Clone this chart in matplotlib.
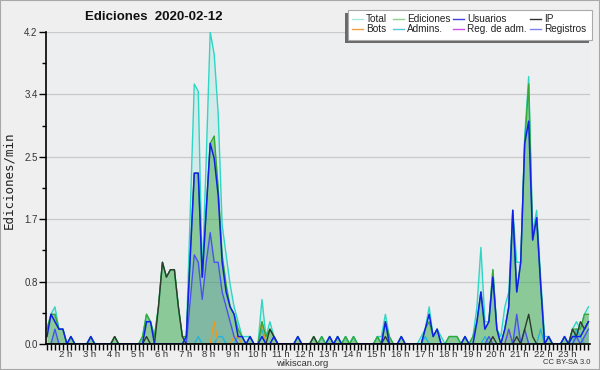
import numpy as np
import matplotlib
matplotlib.use("Agg")
import matplotlib.pyplot as plt
from matplotlib.lines import Line2D
from matplotlib.patches import Rectangle

# edits per minute, one value per 10-minute slot (first slot = 1:10)
total = [
    0.2, 0.4, 0.5, 0.2, 0.2, 0, 0.1, 0, 0, 0,
    0, 0.1, 0, 0, 0, 0, 0, 0.1, 0, 0,
    0, 0, 0, 0, 0.1, 0.4, 0.3, 0.1, 0.5, 1.1,
    0.9, 1.0, 1.0, 0.5, 0.1, 0.1, 1.8, 3.5, 3.4, 0.9,
    2.5, 4.2, 3.9, 3.1, 1.6, 1.2, 0.8, 0.5, 0.3, 0.1,
    0.1, 0.1, 0, 0, 0.6, 0.1, 0.3, 0.1, 0, 0,
    0, 0, 0, 0.1, 0, 0, 0, 0.1, 0, 0.1,
    0, 0.1, 0, 0.1, 0, 0.1, 0, 0.1, 0, 0,
    0, 0, 0, 0.1, 0.1, 0.4, 0.1, 0, 0, 0.1,
    0, 0, 0, 0, 0.1, 0.2, 0.5, 0.1, 0.2, 0.1,
    0, 0.1, 0.1, 0.1, 0, 0.1, 0, 0.1, 0.5, 1.3,
    0.3, 0.3, 1.0, 0.2, 0.1, 0.5, 0.7, 1.8, 1.1, 1.1,
    2.8, 3.6, 1.5, 1.8, 0.9, 0.1, 0.1, 0, 0, 0,
    0.1, 0, 0.2, 0.3, 0.2, 0.4, 0.5,
]
ediciones = [
    0.2, 0.4, 0.4, 0.2, 0.2, 0, 0.1, 0, 0, 0,
    0, 0.1, 0, 0, 0, 0, 0, 0.1, 0, 0,
    0, 0, 0, 0, 0.1, 0.4, 0.3, 0.1, 0.5, 1.1,
    0.9, 1.0, 1.0, 0.5, 0.1, 0.1, 1.2, 2.3, 2.3, 0.9,
    1.8, 2.7, 2.8, 2.1, 1.2, 0.8, 0.5, 0.4, 0.2, 0.1,
    0, 0.1, 0, 0, 0.3, 0.1, 0.2, 0.1, 0, 0,
    0, 0, 0, 0.1, 0, 0, 0, 0.1, 0, 0.1,
    0, 0.1, 0, 0.1, 0, 0.1, 0, 0.1, 0, 0,
    0, 0, 0, 0.1, 0, 0.3, 0.1, 0, 0, 0.1,
    0, 0, 0, 0, 0, 0.2, 0.3, 0.1, 0.2, 0,
    0, 0.1, 0.1, 0.1, 0, 0.1, 0, 0.1, 0.3, 0.7,
    0.2, 0.3, 1.0, 0.2, 0, 0.2, 0.5, 1.8, 0.7, 1.1,
    2.7, 3.5, 1.4, 1.7, 0.8, 0, 0.1, 0, 0, 0,
    0.1, 0, 0.2, 0.2, 0.2, 0.4, 0.4,
]
usuarios = [
    0.1, 0.4, 0.3, 0.2, 0.2, 0, 0.1, 0, 0, 0,
    0, 0.1, 0, 0, 0, 0, 0, 0, 0, 0,
    0, 0, 0, 0, 0, 0.3, 0.3, 0, 0, 0,
    0, 0, 0, 0, 0, 0.1, 1.2, 2.3, 2.3, 0.9,
    1.8, 2.7, 2.5, 2.0, 1.1, 0.7, 0.5, 0.4, 0.1, 0.1,
    0, 0.1, 0, 0, 0.1, 0, 0, 0.1, 0, 0,
    0, 0, 0, 0.1, 0, 0, 0, 0, 0, 0,
    0, 0.1, 0, 0.1, 0, 0, 0, 0, 0, 0,
    0, 0, 0, 0, 0, 0.3, 0, 0, 0, 0.1,
    0, 0, 0, 0, 0, 0.2, 0.4, 0.1, 0.2, 0,
    0, 0, 0, 0, 0, 0.1, 0, 0, 0.3, 0.7,
    0.2, 0.3, 0.9, 0.2, 0, 0.2, 0.5, 1.8, 0.7, 1.1,
    2.7, 3.0, 1.4, 1.7, 0.8, 0, 0.1, 0, 0, 0,
    0.1, 0, 0.1, 0.1, 0.1, 0.2, 0.3,
]
ip = [
    0, 0, 0, 0, 0, 0, 0, 0, 0, 0,
    0, 0, 0, 0, 0, 0, 0, 0.1, 0, 0,
    0, 0, 0, 0, 0, 0.1, 0, 0, 0.5, 1.1,
    0.9, 1.0, 1.0, 0.5, 0.1, 0, 0, 0, 0, 0,
    0, 0, 0, 0, 0, 0, 0, 0, 0, 0,
    0, 0, 0, 0, 0, 0, 0.2, 0.1, 0, 0,
    0, 0, 0, 0, 0, 0, 0, 0.1, 0, 0,
    0, 0, 0, 0, 0, 0, 0, 0, 0, 0,
    0, 0, 0, 0, 0, 0.1, 0, 0, 0, 0,
    0, 0, 0, 0, 0, 0, 0, 0, 0, 0,
    0, 0, 0, 0, 0, 0, 0, 0, 0, 0,
    0, 0, 0.1, 0, 0, 0, 0, 0, 0.1, 0,
    0.2, 0.4, 0.1, 0, 0, 0, 0, 0, 0, 0,
    0, 0, 0.2, 0.1, 0.3, 0.2, 0.3,
]
bots = [
    0, 0, 0, 0, 0, 0, 0, 0, 0, 0,
    0, 0, 0, 0, 0, 0, 0, 0, 0, 0,
    0, 0, 0, 0, 0, 0, 0, 0, 0, 0,
    0, 0, 0, 0, 0, 0, 0, 0, 0, 0,
    0, 0, 0.3, 0, 0, 0, 0, 0.1, 0.1, 0,
    0, 0, 0, 0, 0.3, 0, 0, 0, 0, 0,
    0, 0, 0, 0, 0, 0, 0, 0, 0, 0,
    0, 0, 0, 0, 0, 0, 0, 0, 0, 0,
    0, 0, 0, 0, 0, 0, 0, 0, 0, 0,
    0, 0, 0, 0, 0, 0, 0, 0, 0, 0,
    0, 0, 0, 0, 0, 0, 0, 0, 0, 0,
    0, 0, 0, 0, 0, 0, 0.2, 0, 0, 0,
    0, 0, 0, 0, 0, 0, 0, 0, 0, 0,
    0, 0, 0, 0, 0, 0, 0,
]
admins = [
    0, 0, 0, 0, 0, 0, 0, 0, 0, 0,
    0, 0, 0, 0, 0, 0, 0, 0, 0, 0,
    0, 0, 0, 0, 0, 0, 0, 0, 0, 0,
    0, 0, 0, 0, 0, 0, 0, 0, 0.1, 0,
    0, 0, 0, 0.1, 0.1, 0, 0, 0, 0.1, 0,
    0, 0, 0, 0, 0.2, 0, 0, 0, 0, 0,
    0, 0, 0, 0, 0, 0, 0, 0, 0, 0.1,
    0, 0, 0, 0.1, 0, 0.1, 0, 0.1, 0, 0,
    0, 0, 0, 0.1, 0, 0, 0, 0, 0, 0,
    0, 0, 0, 0, 0, 0.1, 0, 0, 0, 0,
    0, 0, 0, 0, 0, 0, 0, 0, 0, 0,
    0.1, 0, 0, 0, 0, 0, 0, 0, 0, 0,
    0, 0, 0, 0, 0.2, 0, 0, 0, 0, 0,
    0, 0, 0, 0.2, 0.1, 0, 0,
]
reg_adm = [0] * 137
registros = [
    0, 0, 0.2, 0, 0, 0, 0, 0, 0, 0,
    0, 0, 0, 0, 0, 0, 0, 0, 0, 0,
    0, 0, 0, 0, 0, 0, 0, 0, 0, 0,
    0, 0, 0, 0, 0, 0, 0.6, 1.2, 1.1, 0.6,
    1.1, 1.5, 1.1, 1.1, 0.7, 0.5, 0.3, 0.1, 0, 0,
    0, 0, 0, 0, 0, 0, 0, 0, 0, 0,
    0, 0, 0, 0, 0, 0, 0, 0, 0, 0,
    0, 0, 0, 0, 0, 0, 0, 0, 0, 0,
    0, 0, 0, 0, 0, 0, 0, 0, 0, 0,
    0, 0, 0, 0, 0, 0, 0, 0, 0, 0,
    0, 0, 0, 0, 0, 0, 0, 0, 0, 0,
    0, 0.1, 0, 0, 0, 0, 0.2, 0, 0.4, 0,
    0.2, 0, 0, 0, 0, 0, 0, 0, 0, 0,
    0, 0, 0, 0.1, 0, 0.1, 0.2,
]

hours = [2, 3, 4, 5, 6, 7, 8, 9, 10, 11, 12, 13, 14, 15, 16, 17, 18, 19, 20, 21, 22, 23]
hour_labels = ["2 h", "3 h", "4 h", "5 h", "6 h", "7 h", "8 h", "9 h", "10 h", "11 h",
               "12 h", "13 h", "14 h", "15 h", "16 h", "17 h", "18 h", "19 h", "20 h",
               "21 h", "22 h", "23 h"]
y_max = 4.2
y_labels = ["0.0", "0.8", "1.7", "2.5", "3.4", "4.2"]

# colours
C_TOTAL = "#2fd6c4"
C_EDIT = "#34a834"
C_USER = "#1020e8"
C_IP = "#2c3a2c"
C_BOTS = "#f0981c"
C_ADMIN = "#22b4dc"
C_REGADM = "#c43ee0"
C_REG = "#4a52ee"

SANS = "Liberation Sans"

W, H = 600, 370
fig = plt.figure(figsize=(W / 100, H / 100), dpi=100, facecolor="#efefef")
fig.patches.append(Rectangle((0, 0), 1, 1, transform=fig.transFigure, fill=False,
                             edgecolor="#a8a8a8", lw=1.5, zorder=0))
ax = fig.add_axes([46 / W, 26 / H, 544 / W, 312 / H])
ax.set_facecolor("#edeef0")

x = np.arange(len(total))

# -- fills ------------------------------------------------------------------
ax.fill_between(x, 0, total, color=C_TOTAL, alpha=0.14, lw=0, zorder=2)
ax.fill_between(x, 0, ediciones, color="#2aa02a", alpha=0.42, lw=0, zorder=3)
ax.fill_between(x, 0, registros, color="#5060e0", alpha=0.16, lw=0, zorder=4)

# -- lines ------------------------------------------------------------------
lw = 1.0
ax.plot(x, reg_adm, color=C_REGADM, lw=lw, zorder=5)
ax.plot(x, admins, color=C_ADMIN, lw=lw, zorder=6)
ax.plot(x, bots, color=C_BOTS, lw=lw, zorder=6)
ax.plot(x, total, color=C_TOTAL, lw=lw, zorder=7)
ax.plot(x, ediciones, color=C_EDIT, lw=lw, zorder=8)
ax.plot(x, registros, color=C_REG, lw=lw, zorder=9)
ax.plot(x, ip, color=C_IP, lw=lw, zorder=10)
ax.plot(x, usuarios, color=C_USER, lw=1.1, zorder=11)

# -- axes -------------------------------------------------------------------
ax.set_xlim(-0.25, 136.4)
ax.set_ylim(0, y_max)
yt = np.linspace(0, y_max, len(y_labels))
ax.set_yticks(yt)
ax.set_yticklabels(y_labels, family=SANS)
ax.set_yticks((yt[:-1] + yt[1:]) / 2, minor=True)
ax.set_xticks([6 * h - 7.3 for h in hours])
ax.set_xticklabels(hour_labels, family=SANS)
ax.set_xticks(x, minor=True)
ax.tick_params(axis="y", which="major", length=5, width=1, pad=1, labelsize=7,
               labelcolor="#333333")
ax.tick_params(axis="y", which="minor", length=3, width=1)
ax.tick_params(axis="x", which="major", length=0, pad=4, labelsize=6.8,
               labelcolor="#333333")
ax.tick_params(axis="x", which="minor", length=4, width=1)
for s in ("top", "right"):
    ax.spines[s].set_visible(False)
for s in ("left", "bottom"):
    ax.spines[s].set_linewidth(1.2)
    ax.spines[s].set_zorder(20)
ax.yaxis.grid(True, color="#c9c9c9", lw=0.9, zorder=1)
ax.set_axisbelow(True)

# -- texts ------------------------------------------------------------------
fig.text(154 / W, 1 - 17 / H, "Ediciones  2020-02-12", ha="center", va="center",
         fontsize=9.5, fontweight="bold", family=SANS, color="#111111")
fig.text(9 / W, 1 - 180 / H, "Ediciones/min", rotation=90, ha="center", va="center",
         fontsize=9, family="DejaVu Sans Mono", color="#222222")
fig.text(302 / W, 1 - 363 / H, "wikiscan.org", ha="center", va="center",
         fontsize=6.8, family=SANS, color="#333333")
fig.text(590 / W, 1 - 362 / H, "CC BY-SA 3.0", ha="right", va="center",
         fontsize=5.5, family=SANS, color="#333333")

# -- legend (drawn by hand to follow the original box) ----------------------
lx0, ly0, lx1, ly1 = 348, 10, 592, 40
fig.patches.append(Rectangle((lx0 - 3, H - ly1 - 3), lx1 - lx0, ly1 - ly0,
                             transform=None, facecolor="#6a6a6a", lw=0, zorder=30))
fig.patches.append(Rectangle((lx0, H - ly1), lx1 - lx0, ly1 - ly0, transform=None,
                             facecolor="white", edgecolor="#aaaaaa", lw=0.8, zorder=31))
legend_items = [
    ("Total", "#a8e8e0", 352, 19), ("Ediciones", "#8cd08c", 393, 19),
    ("Usuarios", "#4040e0", 453, 19), ("IP", "#333333", 530, 19),
    ("Bots", "#f0a040", 352, 29), ("Admins.", "#50c8e0", 393, 29),
    ("Reg. de adm.", "#cc50e8", 453, 29), ("Registros", "#8080f0", 530, 29),
]
for name, col, px, py in legend_items:
    fig.lines.append(Line2D([px / W, (px + 11) / W], [1 - py / H, 1 - py / H],
                            transform=fig.transFigure, color=col, lw=1, zorder=32))
    fig.text((px + 14) / W, 1 - py / H, name, ha="left", va="center",
             fontsize=7.2, family=SANS, color="#222222", zorder=33)

fig.savefig("out.png", dpi=100, facecolor=fig.get_facecolor())
